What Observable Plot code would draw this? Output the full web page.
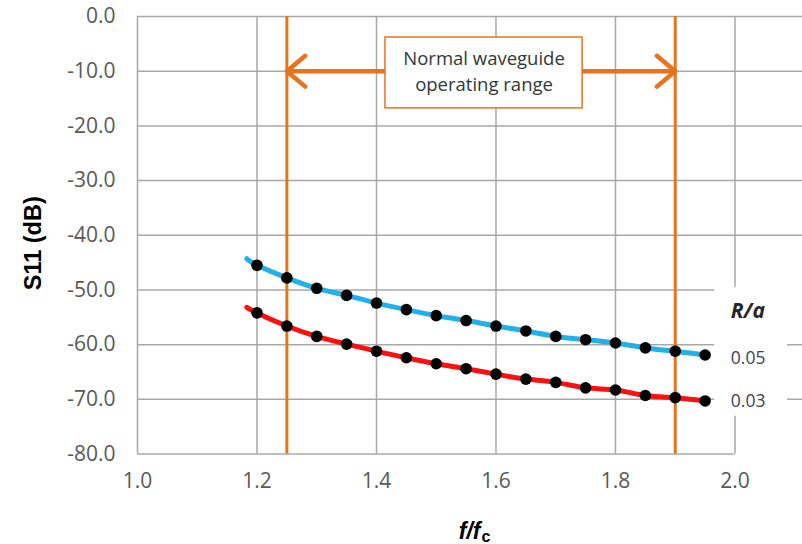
<!DOCTYPE html>
<html>
<head>
<meta charset="utf-8">
<script src="https://cdn.jsdelivr.net/npm/d3@7"></script>
<script src="https://cdn.jsdelivr.net/npm/@observablehq/plot@0.6"></script>
<style>
  html, body { margin: 0; padding: 0; background: #fff; }
</style>
</head>
<body>
<div id="chart"></div>
<script>
// ---- data ----
const ratioX = [1.20, 1.25, 1.30, 1.35, 1.40, 1.45, 1.50, 1.55, 1.60, 1.65, 1.70, 1.75, 1.80, 1.85, 1.90, 1.95];
const s11Ra005 = [-45.5, -47.8, -49.7, -51.0, -52.4, -53.6, -54.7, -55.6, -56.6, -57.5, -58.5, -59.1, -59.7, -60.6, -61.2, -61.9];
const s11Ra003 = [-54.2, -56.6, -58.5, -59.9, -61.2, -62.4, -63.5, -64.4, -65.4, -66.3, -66.9, -67.9, -68.3, -69.3, -69.7, -70.3];
// curve start (fitted curve extends slightly left of the first sample)
const curveStartX = 1.183;
const curveStart005 = -44.3;
const curveStart003 = -53.2;

const seriesNames = ["0.05", "0.03"];
const xTicks = [1.0, 1.2, 1.4, 1.6, 1.8, 2.0];
const yTicks = [0, -10, -20, -30, -40, -50, -60, -70, -80];

// operating range annotation
const rangeBounds = [1.25, 1.90];
const rangeArrowY = -10;
const rangeArrowFrom = 1.58;
const rangeBoxX = [1.415, 1.745];
const rangeBoxY = [-3.84, -16.8];
const rangeText = ["Normal waveguide", "operating range"];
const rangeTextY = [-7.7, -12.6];

// series labels at right
const legendTitle = "R/a";
const legendTitleY = -53.9;
const legendLabelY = [-62.5, -70.4];
const legendX = 1.993;
const legendBoxX = [1.966, 2.088];
const legendBoxY = [-49.6, -73.1];

// ---- build tables ----
const X_MAX = 2.113;
const orange = "#e8731f";
const blue = "#22b0e8";
const red = "#ff1010";
const gridColor = "#a8a8a8";

const pts005 = ratioX.map((x, i) => ({x, y: s11Ra005[i]}));
const pts003 = ratioX.map((x, i) => ({x, y: s11Ra003[i]}));
const line005 = [{x: curveStartX, y: curveStart005}, ...pts005];
const line003 = [{x: curveStartX, y: curveStart003}, ...pts003];

const chart = Plot.plot({
  width: 802,
  height: 544,
  marginTop: 16,
  marginLeft: 137,
  marginRight: 0,
  marginBottom: 90.5,
  style: {fontFamily: "'Open Sans', sans-serif", fontSize: "21px", color: "#595959", background: "#fff"},
  x: {domain: [1.0, X_MAX], ticks: xTicks, tickFormat: d => d.toFixed(1), tickSize: 0, tickPadding: 19, label: null},
  y: {domain: [-80, 0], ticks: yTicks, tickFormat: d => d.toFixed(1), tickSize: 0, tickPadding: 22, label: null},
  marks: [
    // gridlines
    Plot.ruleY(yTicks.filter(d => d > -80), {x1: 1.0, x2: X_MAX, stroke: gridColor, strokeWidth: 1.5}),
    Plot.ruleX(xTicks, {y1: -80, y2: 0, stroke: gridColor, strokeWidth: 1.5}),
    Plot.ruleY([-80], {x1: 1.0, x2: 2.0, stroke: gridColor, strokeWidth: 1.5}),
    // white label area at right
    Plot.rect([0], {x1: legendBoxX[0], x2: X_MAX, y1: legendBoxY[0], y2: -55, fill: "#fff"}),
    Plot.rect([0], {x1: legendBoxX[0], x2: legendBoxX[1], y1: -55, y2: legendBoxY[1], fill: "#fff"}),
    // operating range
    Plot.ruleX(rangeBounds, {y1: -80, y2: 0, stroke: orange, strokeWidth: 3}),
    Plot.arrow(rangeBounds, {x1: rangeArrowFrom, y1: rangeArrowY, x2: d => d, y2: rangeArrowY, stroke: orange, strokeWidth: 4.5, headLength: 8, headAngle: 80, bend: 0}),
    Plot.rect([0], {x1: rangeBoxX[0], x2: rangeBoxX[1], y1: rangeBoxY[0], y2: rangeBoxY[1], fill: "#fff", stroke: orange, strokeWidth: 1.5}),
    Plot.text(rangeText, {x: (rangeBoxX[0] + rangeBoxX[1]) / 2, y: (d, i) => rangeTextY[i], text: d => d, fontSize: 18.5, fill: "#2e3838", fontFamily: "'Open Sans', sans-serif"}),
    // curves
    Plot.line(line005, {x: "x", y: "y", stroke: blue, strokeWidth: 5, curve: "natural"}),
    Plot.line(line003, {x: "x", y: "y", stroke: red, strokeWidth: 5, curve: "natural"}),
    Plot.dot(pts005, {x: "x", y: "y", r: 5.8, fill: "#000"}),
    Plot.dot(pts003, {x: "x", y: "y", r: 5.8, fill: "#000"}),
    // series labels
    Plot.text([legendTitle], {x: legendX, y: legendTitleY, textAnchor: "start", fontSize: 21, fontWeight: "bold", fontStyle: "italic", fill: "#262626", fontFamily: "'Open Sans', sans-serif"}),
    Plot.text(seriesNames, {x: legendX, y: (d, i) => legendLabelY[i], textAnchor: "start", fontSize: 17.5, fill: "#404058", fontFamily: "'Open Sans', sans-serif"}),
    // axis titles
    Plot.text(["S11 (dB)"], {frameAnchor: "left", textAnchor: "middle", rotate: -90, dx: -104, dy: 8, fontSize: 23.5, fontWeight: "bold", fill: "#000", fontFamily: "'Liberation Sans', Arial, sans-serif"}),
    Plot.text(["f/f"], {frameAnchor: "bottom", textAnchor: "end", lineAnchor: "bottom", dx: 10.5, dy: 85, fontSize: 23, fontWeight: "bold", fontStyle: "italic", fill: "#000", fontFamily: "'Liberation Sans', Arial, sans-serif"}),
    Plot.text(["c"], {frameAnchor: "bottom", textAnchor: "start", lineAnchor: "bottom", dx: 11.5, dy: 88, fontSize: 16, fontWeight: "bold", fill: "#000", fontFamily: "'Liberation Sans', Arial, sans-serif"})
  ]
});
document.getElementById("chart").appendChild(chart);
</script>
</body>
</html>
